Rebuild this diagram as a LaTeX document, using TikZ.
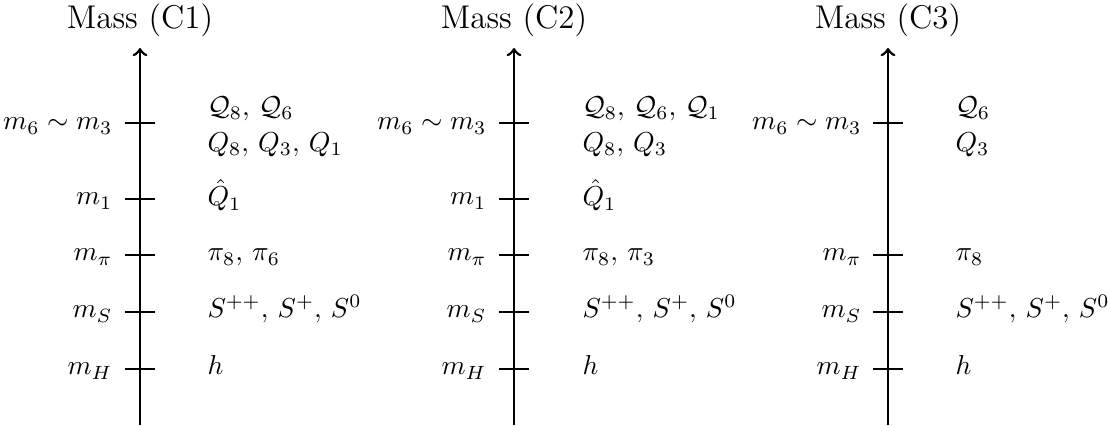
\documentclass[tikz,border=0pt]{standalone}
\begin{document}
\begin{tikzpicture}[x=0.365pt,y=-0.365pt,
  axisline/.style={line width=1pt,->},
  tickline/.style={line width=1pt},
  lab/.style={anchor=mid east,inner sep=0pt},
  parts/.style={anchor=mid west,inner sep=0pt},
  partsb/.style={anchor=base west,inner sep=0pt},
  ttl/.style={anchor=base,inner sep=0pt,font=\large}]
\useasboundingbox (0,0) rectangle (1108,425);
% column 1
\coordinate (b1) at (140,425);
\coordinate (t1) at (140,48);
\draw[axisline] (b1) -- (t1);
\node[ttl] (ti1) at (140,28) {Mass (C1)};
\foreach \n/\y in {a/123,b/199,c/255,d/312,e/369}{
  \coordinate (l1\n) at (125,\y);
  \coordinate (r1\n) at (155,\y);
  \draw[tickline] (l1\n) -- (r1\n);
}
\node[lab] (m1a) at (113,124) {$m_6\sim m_3$};
\node[lab] (m1b) at (113,199) {$m_1$};
\node[lab] (m1c) at (113,255) {$m_\pi$};
\node[lab] (m1d) at (113,312) {$m_S$};
\node[lab] (m1e) at (113,369) {$m_H$};
\node[partsb] (p1a) at (207,115) {$\mathcal{Q}_8,\,\mathcal{Q}_6$};
\node[partsb] (p1a2) at (207,151) {$Q_8,\,Q_3,\,Q_1$};
\node[parts] (p1b) at (207,200) {$\hat{Q}_1$};
\node[parts] (p1c) at (207,255) {$\pi_8,\,\pi_6$};
\node[parts] (p1d) at (207,312) {$S^{++},\,S^{+},\,S^0$};
\node[parts] (p1e) at (207,369) {$h$};
% column 2
\coordinate (b2) at (514,425);
\coordinate (t2) at (514,48);
\draw[axisline] (b2) -- (t2);
\node[ttl] (ti2) at (514,28) {Mass (C2)};
\foreach \n/\y in {a/123,b/199,c/255,d/312,e/369}{
  \coordinate (l2\n) at (499,\y);
  \coordinate (r2\n) at (529,\y);
  \draw[tickline] (l2\n) -- (r2\n);
}
\node[lab] (m2a) at (487,124) {$m_6\sim m_3$};
\node[lab] (m2b) at (487,199) {$m_1$};
\node[lab] (m2c) at (487,255) {$m_\pi$};
\node[lab] (m2d) at (487,312) {$m_S$};
\node[lab] (m2e) at (487,369) {$m_H$};
\node[partsb] (p2a) at (582,115) {$\mathcal{Q}_8,\,\mathcal{Q}_6,\,\mathcal{Q}_1$};
\node[partsb] (p2a2) at (582,151) {$Q_8,\,Q_3$};
\node[parts] (p2b) at (582,200) {$\hat{Q}_1$};
\node[parts] (p2c) at (582,255) {$\pi_8,\,\pi_3$};
\node[parts] (p2d) at (582,312) {$S^{++},\,S^{+},\,S^0$};
\node[parts] (p2e) at (582,369) {$h$};
% column 3
\coordinate (b3) at (888,425);
\coordinate (t3) at (888,48);
\draw[axisline] (b3) -- (t3);
\node[ttl] (ti3) at (888,28) {Mass (C3)};
\foreach \n/\y in {a/123,c/255,d/312,e/369}{
  \coordinate (l3\n) at (873,\y);
  \coordinate (r3\n) at (903,\y);
  \draw[tickline] (l3\n) -- (r3\n);
}
\node[lab] (m3a) at (862,124) {$m_6\sim m_3$};
\node[lab] (m3c) at (862,255) {$m_\pi$};
\node[lab] (m3d) at (862,312) {$m_S$};
\node[lab] (m3e) at (862,369) {$m_H$};
\node[partsb] (p3a) at (955,115) {$\mathcal{Q}_6$};
\node[partsb] (p3a2) at (955,151) {$Q_3$};
\node[parts] (p3c) at (955,255) {$\pi_8$};
\node[parts] (p3d) at (955,312) {$S^{++},\,S^{+},\,S^0$};
\node[parts] (p3e) at (955,369) {$h$};
\end{tikzpicture}
\end{document}
